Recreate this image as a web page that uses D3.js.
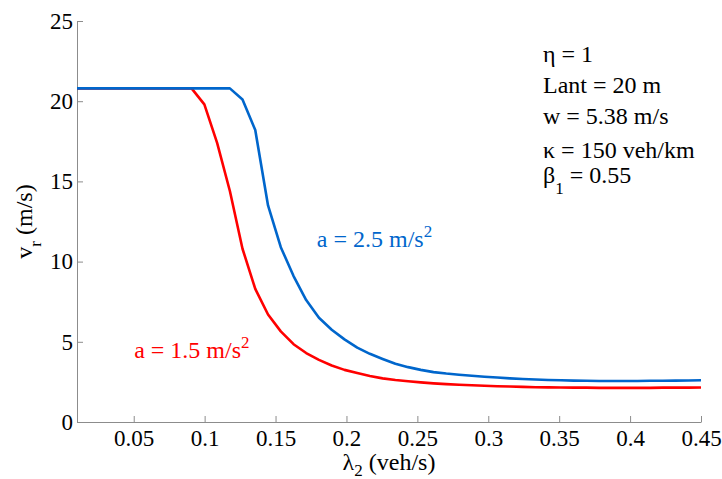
<!DOCTYPE html>
<html>
<head>
<meta charset="utf-8">
<script src="https://cdn.jsdelivr.net/npm/d3@7"></script>
<style>
  body { margin: 0; background: #fff; }
  svg { display: block; }
  svg text { font-family: 'Liberation Serif', Tinos, 'Times New Roman', Times, 'DejaVu Serif', serif; }
</style>
</head>
<body>
<svg id="drawing_region"></svg>
<script>
// lambda_2 sample points (veh/s)
const lambda = [
  0.0100, 0.0190, 0.0280, 0.0369, 0.0459, 0.0549, 0.0639, 0.0729, 0.0818, 0.0908,
  0.0998, 0.1088, 0.1178, 0.1267, 0.1357, 0.1447, 0.1537, 0.1627, 0.1716, 0.1806,
  0.1896, 0.1986, 0.2076, 0.2165, 0.2255, 0.2345, 0.2435, 0.2524, 0.2614, 0.2704,
  0.2794, 0.2884, 0.2973, 0.3063, 0.3153, 0.3243, 0.3333, 0.3422, 0.3512, 0.3602,
  0.3692, 0.3782, 0.3871, 0.3961, 0.4051, 0.4141, 0.4231, 0.4320, 0.4410, 0.4500
];
// v_r for a = 1.5 m/s^2
const vrA15 = [
  20.8, 20.8, 20.8, 20.8, 20.8, 20.8, 20.8, 20.8, 20.8, 20.8,
  19.8, 17.4, 14.4, 10.8, 8.3, 6.7, 5.65, 4.85, 4.3, 3.87,
  3.52, 3.25, 3.06, 2.87, 2.72, 2.62, 2.54, 2.47, 2.41, 2.36,
  2.32, 2.29, 2.26, 2.23, 2.21, 2.19, 2.17, 2.16, 2.15, 2.14,
  2.14, 2.13, 2.13, 2.13, 2.13, 2.13, 2.14, 2.14, 2.14, 2.15
];
// v_r for a = 2.5 m/s^2
const vrA25 = [
  20.8, 20.8, 20.8, 20.8, 20.8, 20.8, 20.8, 20.8, 20.8, 20.8,
  20.8, 20.8, 20.8, 20.1, 18.2, 13.5, 10.9, 9.1, 7.6, 6.5,
  5.75, 5.15, 4.64, 4.25, 3.93, 3.63, 3.42, 3.25, 3.11, 3.02,
  2.95, 2.88, 2.82, 2.77, 2.72, 2.68, 2.65, 2.62, 2.60, 2.58,
  2.57, 2.56, 2.56, 2.56, 2.56, 2.57, 2.57, 2.58, 2.59, 2.60
];
const xTicks = [0.05, 0.1, 0.15, 0.2, 0.25, 0.3, 0.35, 0.4, 0.45];
const yTicks = [0, 5, 10, 15, 20, 25];
const paramLines = [
  { main: 'η = 1' },
  { main: 'Lant = 20 m' },
  { main: 'w = 5.38 m/s' },
  { main: 'κ = 150 veh/km' },
  { main: 'β', sub: '1', rest: ' = 0.55' }
];

const SERIF = "'Liberation Serif', Tinos, 'Times New Roman', Times, 'DejaVu Serif', serif";

class SpeedChart {

    constructor(config) {
        this.config = {
            parent: config.parent,
            width: config.width || 722,
            height: config.height || 479,
            margin: config.margin || { top: 21, right: 21, bottom: 57, left: 77 }
        };
        this.init();
    }

    init() {
        let self = this;
        const m = self.config.margin;

        self.svg = d3.select(self.config.parent)
            .attr('width', self.config.width)
            .attr('height', self.config.height)
            .attr('font-family', SERIF);
        self.chart = self.svg.append('g')
            .attr('transform', `translate(${m.left}, ${m.top})`);

        self.innerW = self.config.width - m.left - m.right;
        self.innerH = self.config.height - m.top - m.bottom;

        self.x = d3.scaleLinear().domain([0.01, 0.45]).range([0, self.innerW]);
        self.y = d3.scaleLinear().domain([0, 25]).range([self.innerH, 0]);
    }

    update() {
        let self = this;

        const xAxis = d3.axisBottom(self.x)
            .tickValues(xTicks)
            .tickFormat(d3.format('~g'))
            .tickSizeInner(-6).tickSizeOuter(0).tickPadding(8);
        const yAxis = d3.axisLeft(self.y)
            .tickValues(yTicks)
            .tickSizeInner(-6).tickSizeOuter(0).tickPadding(4);

        const gx = self.chart.append('g')
            .attr('transform', `translate(0, ${self.innerH})`)
            .call(xAxis);
        const gy = self.chart.append('g').call(yAxis);

        [gx, gy].forEach(g => {
            g.attr('font-family', SERIF).attr('font-size', 23);
            g.selectAll('path, line').attr('stroke', '#8c8c8c');
            g.selectAll('text').attr('fill', '#000');
        });

        const line = d3.line()
            .x(d => self.x(d[0]))
            .y(d => self.y(d[1]));

        const series = [
            { values: vrA15, color: '#ff0000' },
            { values: vrA25, color: '#0066cc' }
        ];
        series.forEach(s => {
            self.chart.append('path')
                .datum(lambda.map((l, i) => [l, s.values[i]]))
                .attr('d', line)
                .attr('fill', 'none')
                .attr('stroke', s.color)
                .attr('stroke-width', 2.6)
                .attr('stroke-linejoin', 'round');
        });

        // curve labels
        const curveLabels = [
            { text: 'a = 1.5 m/s', color: '#ff0000', x: 0.0503, y: 4.0 },
            { text: 'a = 2.5 m/s', color: '#0066cc', x: 0.1791, y: 10.89 }
        ];
        curveLabels.forEach(c => {
            const t = self.chart.append('text')
                .attr('x', self.x(c.x))
                .attr('y', self.y(c.y))
                .attr('fill', c.color)
                .attr('font-size', 24)
                .text(c.text);
            t.append('tspan')
                .attr('dy', -10)
                .attr('font-size', 17)
                .text('2');
        });

        // parameter box
        const px = self.innerW - 158;
        const baselines = [41, 72, 103, 137, 162];
        paramLines.forEach((p, i) => {
            const t = self.chart.append('text')
                .attr('x', px)
                .attr('y', baselines[i])
                .attr('fill', '#000')
                .attr('font-size', 24)
                .text(p.main);
            if (p.sub) {
                t.append('tspan').attr('dy', 11).attr('font-size', 17).text(p.sub);
                t.append('tspan').attr('dy', -11).text(p.rest);
            }
        });

        // axis titles
        const xt = self.chart.append('text')
            .attr('x', self.innerW / 2)
            .attr('y', self.innerH + 48)
            .attr('text-anchor', 'middle')
            .attr('fill', '#000')
            .attr('font-size', 24)
            .text('λ');
        xt.append('tspan').attr('dy', 6).attr('font-size', 17).text('2');
        xt.append('tspan').attr('dy', -6).text(' (veh/s)');

        const yt = self.chart.append('text')
            .attr('transform', `translate(${32 - self.config.margin.left}, ${self.innerH / 2}) rotate(-90)`)
            .attr('text-anchor', 'middle')
            .attr('fill', '#000')
            .attr('font-size', 24)
            .text('v');
        yt.append('tspan').attr('dy', 9).attr('font-size', 17).text('r');
        yt.append('tspan').attr('dy', -9).text(' (m/s)');
    }

}

const chart = new SpeedChart({ parent: '#drawing_region', width: 722, height: 479 });
chart.update();
</script>
</body>
</html>
